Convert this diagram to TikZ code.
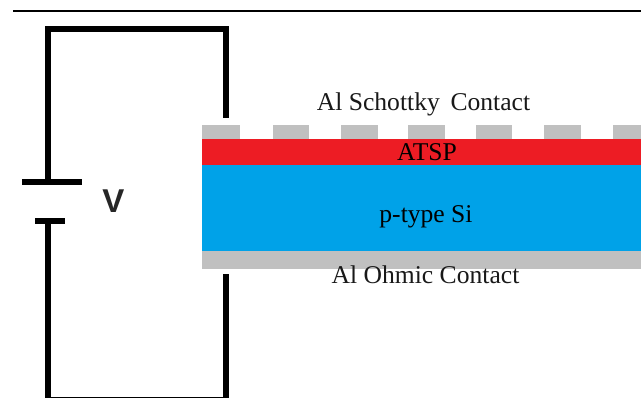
\documentclass[tikz,border=0pt]{standalone}
\usepackage{fontspec}
\setmainfont{Liberation Serif}
\newfontfamily\vfont{Liberation Sans}
\definecolor{contactgray}{RGB}{192,192,192}
\definecolor{atspred}{RGB}{237,28,36}
\definecolor{siblue}{RGB}{0,162,232}
\tikzset{
  wire/.style={line width=6pt,line cap=butt,line join=miter},
  plate/.style={line width=6pt},
  contact/.style={fill=contactgray,draw=none},
  lbl/.style={font=\fontsize{25.6}{27}\selectfont,text=black!90,inner sep=0pt,anchor=center},
  lbldark/.style={lbl,text=black}
}
\begin{document}
\begin{tikzpicture}[x=1pt,y=-1pt]
\useasboundingbox (0,0) rectangle (641,398);
\fill[white] (0,0) rectangle (641,398);
% top rule
\draw[line width=2.2pt] (13,11) -- (641,11);
% layers
\fill[contact] (202,251) rectangle (641,269);
\fill[siblue] (202,165) rectangle (641,251);
\fill[atspred] (202,139.5) rectangle (641,165);
\foreach \a/\b in {202/240,273/309,341/378,408/445,476/512,544/581,613/641}
  \fill[contact] (\a,125) rectangle (\b,139.5);
% circuit
\coordinate (plateTopL) at (22,182.5);
\coordinate (plateTopR) at (82,182.5);
\coordinate (plateBotL) at (35,221);
\coordinate (plateBotR) at (65,221);
\coordinate (topLeft) at (47.7,29);
\coordinate (topRight) at (226,29);
\coordinate (topEnd) at (226,118);
\coordinate (botLeft) at (47.7,400);
\coordinate (botRight) at (226,400);
\coordinate (botEnd) at (226,274);
\draw[wire] (47.7,182.5) -- (topLeft) -- (topRight) -- (topEnd);
\draw[wire] (47.7,221) -- (botLeft) -- (botRight) -- (botEnd);
\draw[plate] (plateTopL) -- (plateTopR);
\draw[plate] (plateBotL) -- (plateBotR);
% labels
\node[font=\vfont\bfseries\fontsize{33}{34}\selectfont,inner sep=0pt,text=black!85] (v) at (113.5,201) {V};
\node[lbl] (schottky) at (423.5,104.5) {Al Schottky\, Contact};
\node[lbldark] (atsp) at (427,152) {ATSP};
\node[lbldark] (si) at (426,216.5) {p-type Si};
\node[lbl] (ohmic) at (425.5,275) {Al Ohmic Contact};
\end{tikzpicture}
\end{document}
